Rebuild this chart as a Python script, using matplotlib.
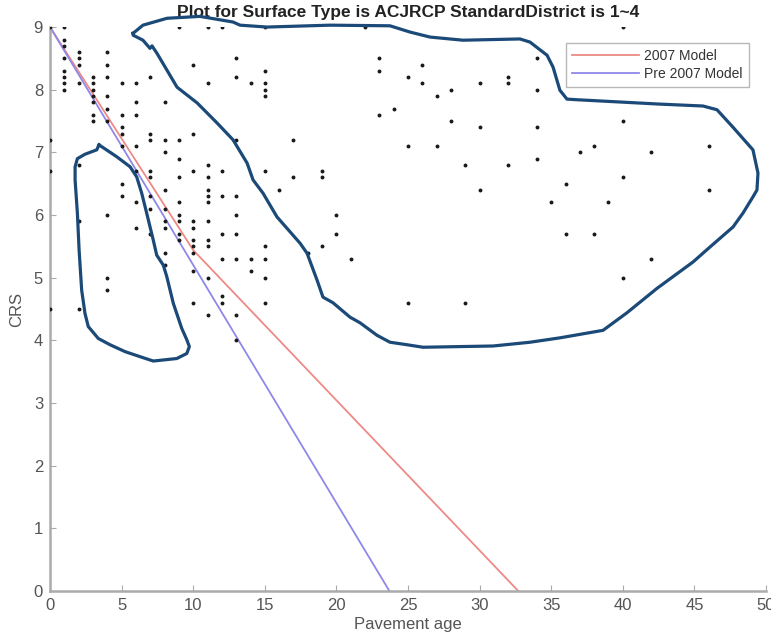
import matplotlib
matplotlib.use('Agg')
import matplotlib.pyplot as plt

plt.rcParams['font.family'] = ['Liberation Sans', 'DejaVu Sans']

# 路面年龄 -> 该年龄下观测到的 CRS 值
ages = [0, 1, 2, 3, 4, 5, 6, 7, 8, 9, 10, 11, 12, 13, 14, 15, 16, 17, 18, 19, 20,
        21, 22, 23, 24, 25, 26, 27, 28, 29, 30, 32, 34, 35, 36, 37, 38, 39, 40, 42, 46]
crs_by_age = [
    [9.0, 7.2, 6.7, 4.5],
    [9.0, 8.8, 8.7, 8.5, 8.3, 8.2, 8.1, 8.0],
    [8.6, 8.5, 8.4, 8.1, 6.8, 5.9, 4.5],
    [8.2, 8.1, 8.0, 7.9, 7.8, 7.6, 7.5],
    [8.6, 8.4, 8.2, 7.9, 7.7, 7.5, 6.0, 5.0, 4.8],
    [8.1, 7.6, 7.4, 7.3, 7.1, 6.5, 6.3],
    [8.1, 7.8, 7.6, 7.1, 6.7, 6.2, 5.8],
    [8.2, 7.3, 7.2, 6.7, 6.6, 6.3, 6.1, 5.7],
    [7.8, 7.2, 7.0, 6.4, 6.1, 5.9, 5.8, 5.4, 5.2],
    [9.0, 7.2, 6.9, 6.6, 6.2, 6.0, 5.9, 5.7, 5.6],
    [8.4, 7.3, 6.7, 5.9, 5.8, 5.6, 5.5, 5.4, 5.1, 4.6],
    [9.0, 8.1, 6.8, 6.6, 6.4, 6.3, 6.2, 5.9, 5.6, 5.5, 5.0, 4.4],
    [9.0, 6.7, 6.3, 5.7, 5.3, 4.7, 4.6],
    [8.5, 8.2, 7.2, 6.3, 6.0, 5.7, 5.3, 4.4, 4.0],
    [8.1, 5.3, 5.1],
    [9.0, 8.3, 8.1, 8.0, 7.9, 6.7, 5.5, 5.3, 5.0, 4.6],
    [6.4],
    [7.2, 6.6],
    [5.4],
    [6.7, 6.6, 5.5],
    [6.0, 5.7],
    [5.3],
    [9.0],
    [8.5, 8.3, 7.6],
    [7.7],
    [8.2, 7.1, 4.6],
    [8.4, 8.1],
    [7.9, 7.1],
    [8.0, 7.5],
    [6.8, 4.6],
    [8.1, 7.4, 6.4],
    [8.2, 8.1, 6.8],
    [8.5, 8.0, 7.4, 6.9],
    [6.2],
    [6.5, 5.7],
    [7.0],
    [7.1, 5.7],
    [6.2],
    [9.0, 7.5, 6.6, 5.0],
    [7.0, 5.3],
    [7.1, 6.4],
]

# 两条模型线
model_2007_x = [0, 10, 32.7]
model_2007_y = [9, 5.44, 0]
model_pre_x = [0, 23.7]
model_pre_y = [9, 0]

# 手绘的两个圈（数据坐标）
big_loop_x = [5.80, 6.49, 8.17, 10.47, 12.78, 13.27, 15.15, 19.55, 23.74, 25.14, 26.54, 28.84,
              32.82, 33.52, 34.71, 35.13, 35.61, 36.10, 36.80, 42.60, 45.60, 46.58, 47.70,
              49.09, 49.44, 49.37, 49.09, 48.39, 47.70, 46.09, 44.90, 42.39, 40.29, 38.62,
              35.61, 33.52, 30.94, 26.05, 24.93, 23.74, 22.84, 21.65, 20.95, 19.76, 19.06,
              18.65, 17.95, 17.46, 15.85, 14.87, 14.18, 13.76, 12.78, 11.66, 10.27, 8.87,
              8.17, 7.47, 7.12, 6.98, 6.49, 5.80, 5.80]
big_loop_y = [8.90, 9.03, 9.14, 9.17, 9.08, 9.03, 9.00, 9.03, 9.02, 8.92, 8.84, 8.79,
              8.81, 8.76, 8.55, 8.36, 7.99, 7.85, 7.84, 7.77, 7.74, 7.68, 7.40,
              7.04, 6.67, 6.40, 6.29, 6.03, 5.81, 5.49, 5.25, 4.83, 4.44, 4.16,
              4.04, 3.97, 3.91, 3.89, 3.93, 3.97, 4.08, 4.28, 4.37, 4.60, 4.69,
              4.96, 5.39, 5.55, 5.97, 6.35, 6.56, 6.83, 7.20, 7.47, 7.79, 8.04,
              8.31, 8.58, 8.70, 8.66, 8.79, 8.87, 8.90]
small_loop_x = [3.42, 4.66, 5.59, 6.05, 6.40, 6.75, 7.21, 7.45, 7.91, 8.15, 8.61, 9.20, 9.55,
                9.73, 9.55, 8.85, 7.21, 6.28, 5.24, 4.19, 3.37, 2.67, 2.44, 2.21, 2.03, 1.91,
                1.75, 1.75, 1.91, 2.44, 3.26, 3.42]
small_loop_y = [7.12, 6.93, 6.77, 6.61, 6.35, 6.03, 5.60, 5.36, 5.20, 5.02, 4.59, 4.19, 4.01,
                3.90, 3.79, 3.71, 3.67, 3.74, 3.82, 3.93, 4.03, 4.22, 4.43, 4.80, 5.44, 6.03,
                6.56, 6.77, 6.90, 6.97, 7.04, 7.12]

x_pts = []
y_pts = []
for a, vals in zip(ages, crs_by_age):
    for v in vals:
        x_pts.append(a)
        y_pts.append(v)

fig = plt.figure(figsize=(7.71, 6.44), dpi=100)
ax = fig.add_axes([0.0649, 0.0823, 0.9286, 0.8757])

ax.plot(x_pts, y_pts, 'o', color='#1a1a1a', markersize=1.8, linestyle='none', zorder=3)
ax.plot(model_2007_x, model_2007_y, color='#ee8a85', linewidth=1.3, label='2007 Model')
ax.plot(model_pre_x, model_pre_y, color='#8f88ea', linewidth=1.3, label='Pre 2007 Model')

ax.plot(big_loop_x, big_loop_y, color='#1b4a78', linewidth=2.3, clip_on=False, zorder=4)
ax.plot(small_loop_x, small_loop_y, color='#1b4a78', linewidth=2.3, clip_on=False, zorder=4)

ax.set_xlim(0, 50)
ax.set_ylim(0, 9)
ax.set_xticks(range(0, 51, 5))
ax.set_yticks(range(0, 10))
for s in ['top', 'right']:
    ax.spines[s].set_visible(False)
for s in ['left', 'bottom']:
    ax.spines[s].set_color('#ababab')
    ax.spines[s].set_linewidth(1.8)
ax.tick_params(direction='in', length=4, colors='#ababab', labelcolor='#555555',
               labelsize=12, pad=5)

ax.set_xlabel('Pavement age', fontsize=12, color='#555555', labelpad=3)
ax.set_ylabel('CRS', fontsize=12, color='#555555', labelpad=7)
ax.set_title('Plot for Surface Type is ACJRCP StandardDistrict is 1~4',
             fontsize=12.5, fontweight='bold', color='#222222', pad=7)

leg = ax.legend(loc='upper right', bbox_to_anchor=(0.986, 0.984), fontsize=10,
                frameon=True, fancybox=False, handlelength=4.8, borderpad=0.45,
                labelspacing=0.25, handletextpad=0.4)
leg.get_frame().set_edgecolor('#a6a6a6')
leg.get_frame().set_linewidth(1.0)
for t in leg.get_texts():
    t.set_color('#333333')

fig.savefig('out.png', dpi=100)
